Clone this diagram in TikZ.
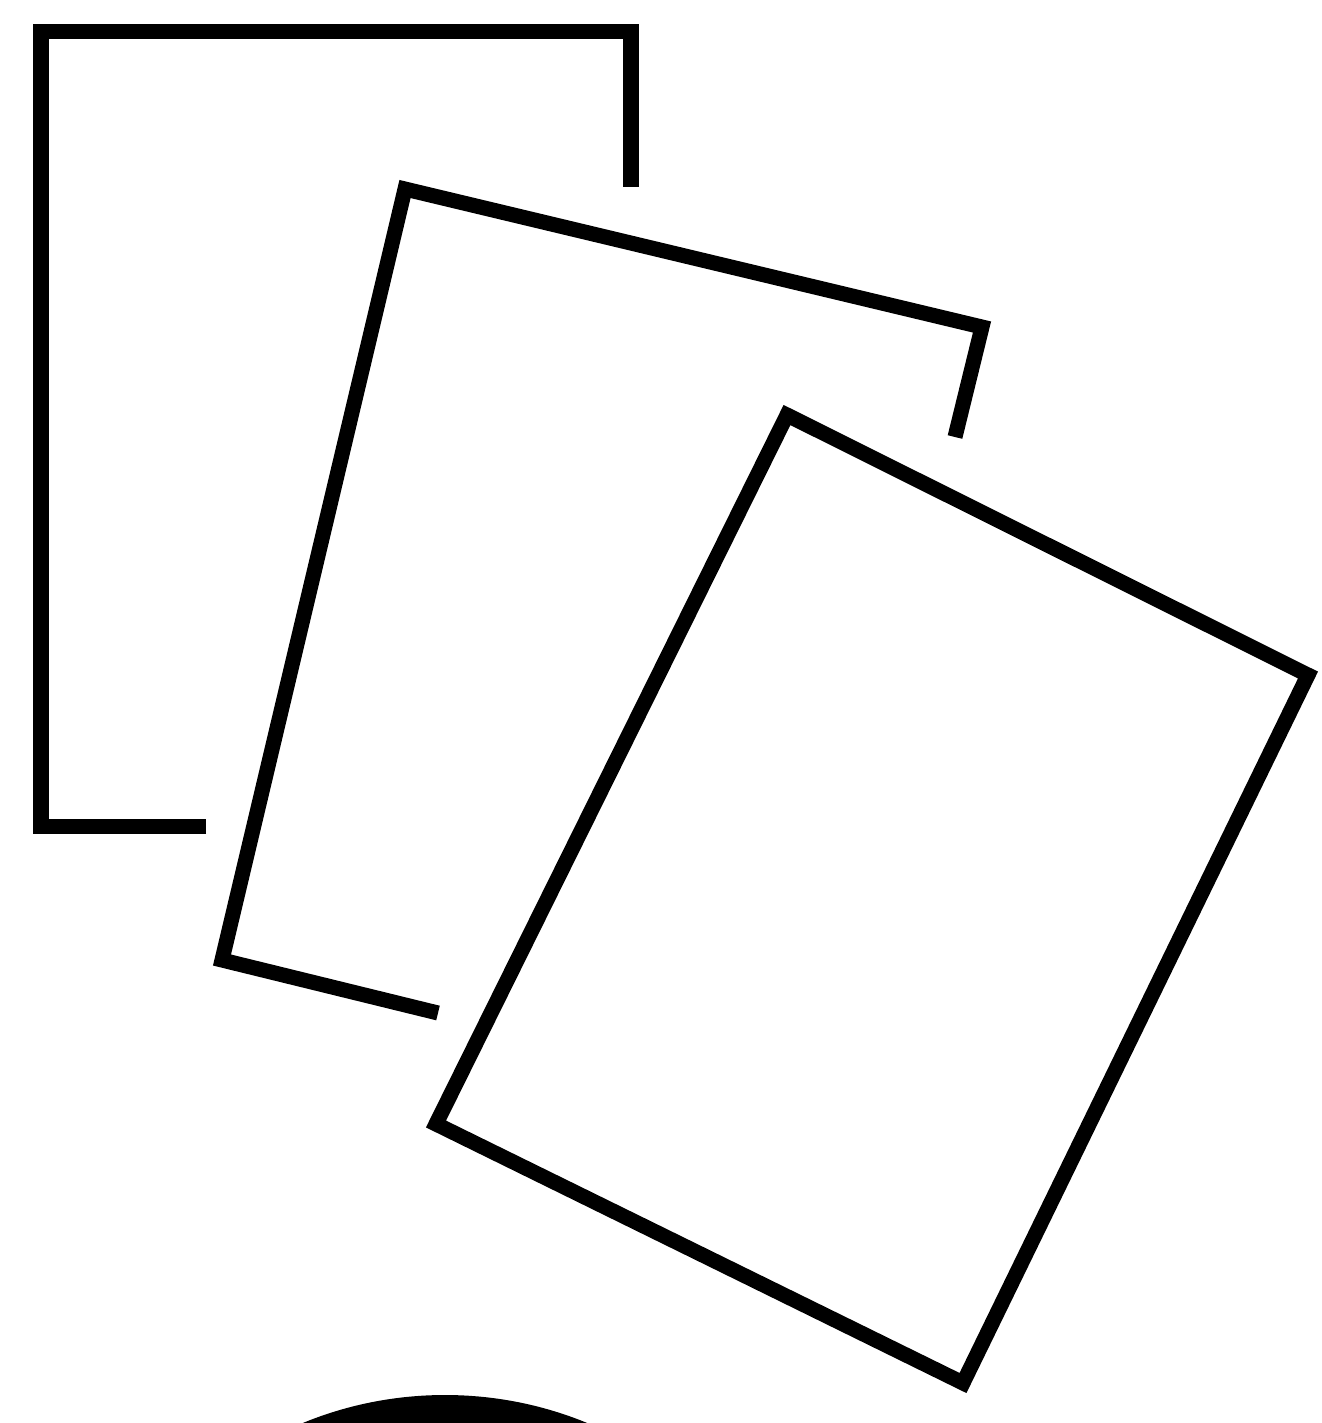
\documentclass[tikz,border=0pt]{standalone}
\usepackage{tikz}
\tikzset{sheetline/.style={line width=0.15cm,black,line join=miter,line cap=butt}}

\begin{document}
\begin{tikzpicture}[x=0.01cm,y=-0.01cm]
        \useasboundingbox (0,0) rectangle (1322,1423);
        \clip (0,0) rectangle (1322,1423);
        % back sheet
        \draw[sheetline] (206,826) -- (41,826) -- (41,31) -- (631,31) -- (631,187);
        % middle sheet
        \draw[sheetline] (438,1013) -- (222,960) -- (405,189) -- (982,327) -- (955,437);
        % front sheet
        \draw[sheetline] (787,415) -- (1308,675) -- (963,1383) -- (436,1124) -- cycle;
        % dark shape at the bottom edge
        \fill[black] (445,1769) circle (374);
      \end{tikzpicture}
\end{document}
